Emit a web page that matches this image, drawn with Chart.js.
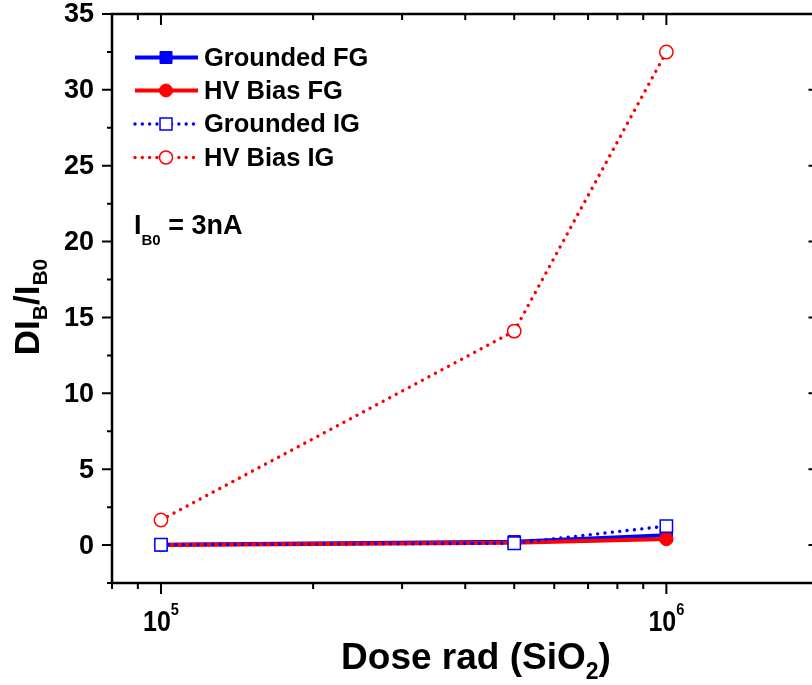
<!DOCTYPE html>
<html><head><meta charset="utf-8">
<script src="https://cdn.jsdelivr.net/npm/chart.js@4.4.1/dist/chart.umd.min.js"></script>
<style>html,body{margin:0;padding:0;overflow:hidden;background:#fff;width:812px;height:685px}canvas{display:block}</style>
</head><body><canvas id="c" width="830" height="685"></canvas>
<script>
// ---- data ----
const doses = [1e5, 5e5, 1e6];
const groundedFG = [0.02, 0.22, 0.65];
const hvBiasFG = [0.0, 0.15, 0.4];
const groundedIG = [0.02, 0.12, 1.25];
const hvBiasIG = [1.65, 14.1, 32.5];
const seriesNames = ['Grounded FG', 'HV Bias FG', 'Grounded IG', 'HV Bias IG'];
const yMajorTicks = [0, 5, 10, 15, 20, 25, 30, 35];
const yMinorTicks = [-2.5, 2.5, 7.5, 12.5, 17.5, 22.5, 27.5, 32.5];
const xMajorTicks = [1e5, 1e6];
const xMinorTicks = [8e4, 9e4, 2e5, 3e5, 4e5, 5e5, 6e5, 7e5, 8e5, 9e5, 2e6];
const xTickBase = '10';
const xTickExponents = ['5', '6'];

function fontStr(size) {
  return 'bold ' + size + 'px "Liberation Sans", Arial, sans-serif';
}
function segWidth(ctx, s) {
  ctx.font = fontStr(s.size);
  return ctx.measureText(s.t).width * (s.sx || 1);
}
function drawRich(ctx, segs, x, y, align) {
  const ws = segs.map(s => segWidth(ctx, s));
  const total = ws.reduce((a, b) => a + b, 0);
  let cx = align === 'center' ? x - total / 2 : align === 'right' ? x - total : x;
  segs.forEach((s, i) => {
    ctx.save();
    ctx.font = fontStr(s.size);
    ctx.textBaseline = 'alphabetic'; ctx.textAlign = 'left'; ctx.fillStyle = '#000';
    ctx.translate(cx, y + (s.dy || 0));
    if (s.sx) ctx.scale(s.sx, 1);
    ctx.fillText(s.t, 0, 0);
    ctx.restore();
    cx += ws[i];
  });
}

const BLUE = '#0000ff', RED = '#ff0000';
const styles = [
  {color: BLUE, dotted: false, shape: 'rect', fill: BLUE},
  {color: RED, dotted: false, shape: 'circle', fill: RED},
  {color: BLUE, dotted: true, shape: 'rect', fill: '#ffffff'},
  {color: RED, dotted: true, shape: 'circle', fill: '#ffffff'}
];
const seriesValues = [groundedFG, hvBiasFG, groundedIG, hvBiasIG];
const drawOrder = [4, 3, 2, 1];

const datasets = seriesNames.map((name, i) => {
  const st = styles[i];
  return {
    label: name,
    data: doses.map((d, j) => ({x: d, y: seriesValues[i][j]})),
    borderColor: st.color,
    backgroundColor: st.fill,
    borderWidth: st.dotted ? 3.4 : 4,
    borderDash: st.dotted ? [0.01, 7.4] : [],
    borderCapStyle: st.dotted ? 'round' : 'butt',
    pointStyle: st.shape,
    pointRadius: st.shape === 'rect' ? 8.7 : 6.7,
    pointBorderWidth: st.dotted ? 1.5 : 1,
    pointBorderColor: st.color,
    pointBackgroundColor: st.fill,
    tension: 0,
    order: drawOrder[i]
  };
});

const framePlugin = {
  id: 'frame',
  afterDatasetsDraw(chart) {
    const {ctx, chartArea: a, scales: {x, y}} = chart;
    ctx.save();
    ctx.strokeStyle = '#000';
    ctx.lineWidth = 2.5;
    ctx.strokeRect(a.left, a.top, a.right - a.left, a.bottom - a.top);
    ctx.lineWidth = 2;
    ctx.beginPath();
    yMajorTicks.forEach(v => {
      const py = y.getPixelForValue(v);
      ctx.moveTo(a.left - 10, py); ctx.lineTo(a.left, py);
      ctx.moveTo(a.right - 10, py); ctx.lineTo(a.right, py);
    });
    yMinorTicks.forEach(v => {
      const py = y.getPixelForValue(v);
      ctx.moveTo(a.left - 5, py); ctx.lineTo(a.left, py);
      ctx.moveTo(a.right - 5, py); ctx.lineTo(a.right, py);
    });
    xMajorTicks.forEach(v => {
      const px = x.getPixelForValue(v);
      ctx.moveTo(px, a.bottom); ctx.lineTo(px, a.bottom + 11);
      ctx.moveTo(px, a.top); ctx.lineTo(px, a.top + 11);
    });
    xMinorTicks.forEach(v => {
      const px = x.getPixelForValue(v);
      ctx.moveTo(px, a.bottom); ctx.lineTo(px, a.bottom + 6);
      ctx.moveTo(px, a.top); ctx.lineTo(px, a.top + 6);
    });
    ctx.stroke();

    // y tick labels
    ctx.fillStyle = '#000';
    ctx.font = fontStr(27);
    ctx.textAlign = 'right'; ctx.textBaseline = 'middle';
    yMajorTicks.forEach(v => {
      ctx.fillText(String(v), a.left - 18, y.getPixelForValue(v) + 1);
    });
    // x tick labels
    xMajorTicks.forEach((v, i) => {
      drawRich(ctx, [
        {t: xTickBase, size: 29, sx: 0.86},
        {t: xTickExponents[i], size: 17, sx: 0.86, dy: -16}
      ], x.getPixelForValue(v), a.bottom + 48, 'center');
    });
    // x title
    drawRich(ctx, [
      {t: 'Dose rad (SiO', size: 37},
      {t: '2', size: 23, dy: 10},
      {t: ')', size: 37}
    ], 476, 669, 'center');
    // y title
    ctx.save();
    ctx.translate(39, 307);
    ctx.rotate(-Math.PI / 2);
    drawRich(ctx, [
      {t: 'DI', size: 35},
      {t: 'B', size: 21, dy: 8},
      {t: '/I', size: 35},
      {t: 'B0', size: 21, dy: 8}
    ], 0, 0, 'center');
    ctx.restore();
    // annotation
    drawRich(ctx, [
      {t: 'I', size: 27},
      {t: 'B0', size: 15, dy: 11},
      {t: ' = 3nA', size: 27}
    ], 134, 234, 'left');

    // legend
    const rows = [57.5, 90.5, 124, 157.5];
    seriesNames.forEach((name, i) => {
      const st = styles[i];
      const ry = rows[i];
      ctx.save();
      ctx.strokeStyle = st.color;
      if (st.dotted) {
        ctx.lineWidth = 3.4; ctx.lineCap = 'round'; ctx.setLineDash([0.01, 7.3]);
      } else {
        ctx.lineWidth = 4; ctx.lineCap = 'butt'; ctx.setLineDash([]);
      }
      ctx.beginPath(); ctx.moveTo(135, ry); ctx.lineTo(198, ry); ctx.stroke();
      ctx.setLineDash([]);
      ctx.fillStyle = st.fill; ctx.lineWidth = st.dotted ? 1.5 : 1;
      ctx.beginPath();
      if (st.shape === 'rect') ctx.rect(166 - 6, ry - 6, 12, 12);
      else ctx.arc(166, ry, 6.5, 0, Math.PI * 2);
      ctx.fill(); ctx.stroke();
      ctx.restore();
      ctx.fillStyle = '#000';
      ctx.font = fontStr(25.5);
      ctx.textAlign = 'left'; ctx.textBaseline = 'middle';
      ctx.fillText(name, 204, ry + 1);
    });
    ctx.restore();
  }
};

new Chart(document.getElementById('c'), {
  type: 'line',
  data: {datasets},
  options: {
    responsive: false,
    devicePixelRatio: 1,
    animation: false,
    layout: {padding: {left: 112, top: 14, right: 11.5, bottom: 102}},
    plugins: {legend: {display: false}, tooltip: {enabled: false}},
    scales: {
      x: {type: 'logarithmic', min: 8e4, max: 2e6, display: false},
      y: {type: 'linear', min: -2.5, max: 35, display: false}
    }
  },
  plugins: [framePlugin]
});
</script>
</body></html>
